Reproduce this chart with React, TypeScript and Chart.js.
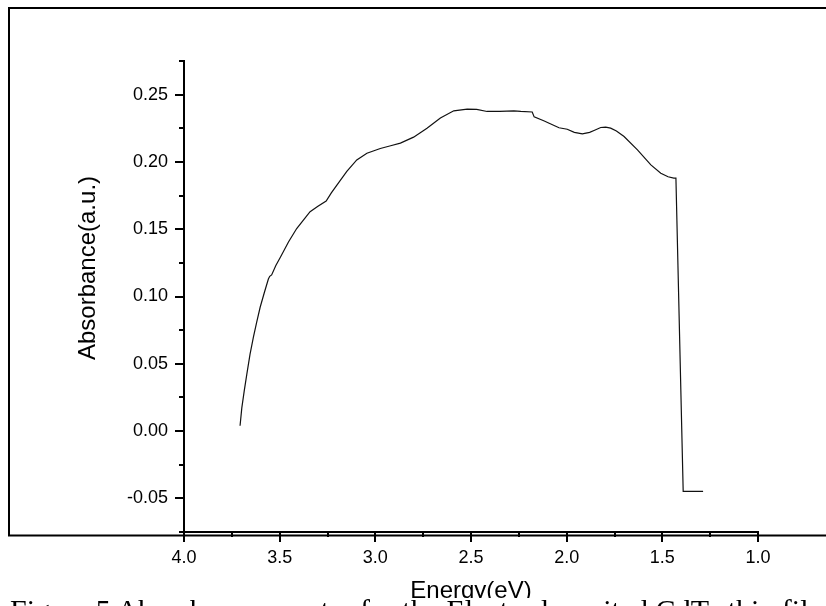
import React, { useEffect, useRef } from "react";
import { Chart, registerables } from "chart.js";

Chart.register(...registerables);

// ---- data ----
const energy = [
  3.707, 3.698, 3.685, 3.672, 3.655, 3.637, 3.62, 3.602, 3.58, 3.559, 3.552, 3.542,
  3.52, 3.497, 3.454, 3.411, 3.375, 3.341, 3.3, 3.257, 3.23, 3.2, 3.149, 3.097,
  3.044, 2.974, 2.92, 2.869, 2.8, 2.73, 2.66, 2.59, 2.52, 2.47, 2.416, 2.35,
  2.276, 2.24, 2.18, 2.17, 2.12, 2.08, 2.04, 1.997, 1.96, 1.918, 1.88, 1.857,
  1.822, 1.796, 1.77, 1.74, 1.7, 1.63, 1.56, 1.508, 1.47, 1.44, 1.429, 1.391, 1.287,
];
const absorbance = [
  0.004, 0.017, 0.03, 0.042, 0.057, 0.07, 0.081, 0.092, 0.103, 0.113, 0.115, 0.116,
  0.123, 0.129, 0.1405, 0.1505, 0.157, 0.163, 0.167, 0.171, 0.177, 0.183, 0.193, 0.2015,
  0.2065, 0.21, 0.212, 0.214, 0.2184, 0.225, 0.2326, 0.238, 0.2393, 0.239, 0.2375, 0.2375,
  0.238, 0.2375, 0.2371, 0.2335, 0.2306, 0.228, 0.2254, 0.2243, 0.222, 0.2209, 0.222, 0.2234,
  0.2256, 0.2259, 0.2251, 0.223, 0.2189, 0.209, 0.1978, 0.1916, 0.189, 0.188, 0.188, -0.0448, -0.0448,
];
const xMajorTicks = [4.0, 3.5, 3.0, 2.5, 2.0, 1.5, 1.0];
const xMinorTicks = [3.75, 3.25, 2.75, 2.25, 1.75, 1.25];
const yMajorTicks = [-0.05, 0.0, 0.05, 0.1, 0.15, 0.2, 0.25];
const yMinorTicks = [-0.075, -0.025, 0.025, 0.075, 0.125, 0.175, 0.225, 0.275];
const xTitle = "Energy(eV)";
const yTitle = "Absorbance(a.u.)";
const caption = "Figure 5 Absorbance spectra for the Electrodeposited CdTe thin film";

const SANS = "'Liberation Sans', Arial, sans-serif";

const decorPlugin = {
  id: "decor",
  afterDraw(chart: any) {
    const { ctx, chartArea, scales } = chart;
    const x = scales.x;
    const y = scales.y;
    const left = chartArea.left;
    const bottom = chartArea.bottom;
    ctx.save();
    ctx.strokeStyle = "#000";
    ctx.lineWidth = 2;
    const seg = (x1: number, y1: number, x2: number, y2: number) => {
      ctx.beginPath();
      ctx.moveTo(x1, y1);
      ctx.lineTo(x2, y2);
      ctx.stroke();
    };
    // outer frame (left, top, bottom)
    ctx.beginPath();
    ctx.moveTo(chart.width, 8);
    ctx.lineTo(9, 8);
    ctx.lineTo(9, bottom + 3.5);
    ctx.lineTo(chart.width, bottom + 3.5);
    ctx.stroke();
    // y ticks
    yMajorTicks.forEach((v) => {
      const p = Math.round(y.getPixelForValue(v));
      seg(left - 9, p, left, p);
    });
    yMinorTicks.forEach((v) => {
      const p = Math.round(y.getPixelForValue(v));
      seg(left - 5, p, left, p);
    });
    // x ticks
    xMajorTicks.forEach((v) => {
      const p = Math.round(x.getPixelForValue(v));
      seg(p, bottom, p, bottom + 10);
    });
    xMinorTicks.forEach((v) => {
      const p = Math.round(x.getPixelForValue(v));
      seg(p, bottom, p, bottom + 5);
    });
    // y axis title (placed off-centre as in the reference)
    ctx.translate(88, 268);
    ctx.rotate(-Math.PI / 2);
    ctx.fillStyle = "#000";
    ctx.font = `24px ${SANS}`;
    ctx.textAlign = "center";
    ctx.textBaseline = "middle";
    ctx.fillText(yTitle, 0, 0);
    ctx.restore();
  },
};

export default function App() {
  const canvasRef = useRef<HTMLCanvasElement | null>(null);

  useEffect(() => {
    const canvas = canvasRef.current;
    if (!canvas) return;
    const points = energy.map((e, i) => ({ x: e, y: absorbance[i] }));
    const chart = new Chart(canvas, {
      type: "line",
      data: {
        datasets: [
          {
            data: points,
            borderColor: "#111",
            borderWidth: 1.2,
            pointRadius: 0,
            tension: 0,
            fill: false,
          },
        ],
      },
      options: {
        responsive: false,
        animation: false,
        devicePixelRatio: 1,
        layout: { padding: { top: 61, right: 68, bottom: 0, left: 0 } },
        plugins: {
          legend: { display: false },
          tooltip: { enabled: false },
          title: { display: false },
        },
        scales: {
          x: {
            type: "linear",
            reverse: true,
            min: 1.0,
            max: 4.0,
            afterBuildTicks: (s: any) => {
              s.ticks = xMajorTicks.map((v) => ({ value: v }));
            },
            afterFit: (s: any) => {
              s.height = 74;
            },
            grid: { display: false, drawTicks: false },
            border: { display: true, color: "#000", width: 2 },
            ticks: {
              color: "#000",
              padding: 15,
              maxRotation: 0,
              autoSkip: false,
              font: { family: SANS, size: 18 },
              callback: (v: any) => Number(v).toFixed(1),
            },
            title: {
              display: true,
              text: xTitle,
              color: "#000",
              font: { family: SANS, size: 24 },
              padding: { top: 0, bottom: 0 },
            },
          },
          y: {
            type: "linear",
            min: -0.075,
            max: 0.275,
            afterBuildTicks: (s: any) => {
              s.ticks = yMajorTicks.map((v) => ({ value: v }));
            },
            afterFit: (s: any) => {
              s.width = 184;
            },
            grid: { display: false, drawTicks: false },
            border: { display: true, color: "#000", width: 2 },
            ticks: {
              color: "#000",
              padding: 16,
              autoSkip: false,
              font: { family: SANS, size: 18 },
              callback: (v: any) => Number(v).toFixed(2),
            },
            title: { display: false },
          },
        },
      },
      plugins: [decorPlugin],
    } as any);
    return () => chart.destroy();
  }, []);

  return (
    <div
      style={{
        position: "fixed",
        left: 0,
        top: 0,
        width: 826,
        height: 606,
        overflow: "hidden",
        background: "#fff",
      }}
    >
      <canvas ref={canvasRef} width={826} height={606} style={{ display: "block" }} />
      <div
        style={{
          position: "absolute",
          left: 10,
          top: 598,
          whiteSpace: "nowrap",
          fontFamily: "'Liberation Serif', 'Times New Roman', serif",
          fontSize: 30,
          lineHeight: 0.8,
          background: "#fff",
          color: "#000",
          paddingRight: 400,
        }}
      >
        {caption}
      </div>
    </div>
  );
}
